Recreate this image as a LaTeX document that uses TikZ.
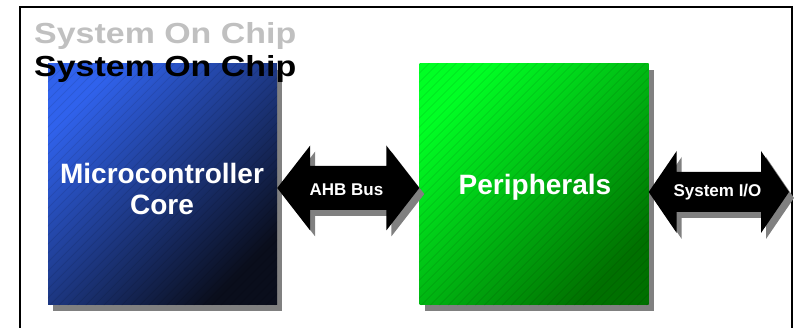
\documentclass[tikz,border=0pt]{standalone}
\usepackage{fontspec}
\setmainfont{Liberation Sans}
\usetikzlibrary{calc,shadows}

\definecolor{shadowgray}{RGB}{128,128,128}
\definecolor{titlegray}{RGB}{192,192,192}
\definecolor{blueA}{RGB}{48,98,236}
\definecolor{blueB}{RGB}{10,14,28}
\definecolor{greenA}{RGB}{0,255,36}
\definecolor{greenB}{RGB}{0,112,0}

% double-headed bus arrow between two points, with a grey drop shadow
% #1 left tip, #2 right tip, #3 head length, #4 half head width, #5 half shaft width
\newcommand\busarrow[5]{%
  \foreach \sx/\sy/\col in {5/-6/shadowgray,0/0/black}{%
    \fill[\col, transform canvas={xshift=\sx pt, yshift=\sy pt}]
      (#1) -- ($(#1)+(#3,#4)$) -- ($(#1)+(#3,#5)$)
      -- ($(#2)+(-#3,#5)$) -- ($(#2)+(-#3,#4)$) -- (#2)
      -- ($(#2)+(-#3,-#4)$) -- ($(#2)+(-#3,-#5)$)
      -- ($(#1)+(#3,-#5)$) -- ($(#1)+(#3,-#4)$) -- cycle;
  }%
}

\tikzset{
  block/.style={minimum width=229pt, minimum height=241pt, inner sep=0pt,
    general shadow={fill=shadowgray, shadow xshift=5pt, shadow yshift=-6pt}},
  blueblock/.style={block, top color=blueA, bottom color=blueB, shading angle=45},
  greenblock/.style={block, top color=greenA, bottom color=greenB, shading angle=45},
  stripe/.style={black, opacity=0.09, line width=1pt},
  blocktext/.style={text=white, inner sep=0pt, anchor=base,
    font=\bfseries\fontsize{28}{32}\selectfont},
  bustext/.style={text=white, inner sep=0pt, anchor=base,
    font=\bfseries\fontsize{17}{20}\selectfont},
  titletext/.style={inner sep=0pt, anchor=base west, xscale=1.17, transform shape,
    font=\bfseries\fontsize{29}{32}\selectfont},
}

\begin{document}
\begin{tikzpicture}[x=1pt, y=1pt]
  \useasboundingbox (0,0) rectangle (795,328);

  % outer frame, open at the bottom
  \draw[line width=2pt] (20,-5) -- (20,321) -- (792,321) -- (792,-5);

  % the two blocks
  \node[blueblock] (mcu) at (162.5,143.5) {};
  \node[greenblock] (per) at (534,143.5) {};

  % fine diagonal texture on both blocks
  \foreach \b in {mcu,per}{
    \begin{scope}
      \clip (\b.south west) rectangle (\b.north east);
      \foreach \k in {0,...,56}
        \draw[stripe] ($(\b.south west)+(-250+9*\k,0)$) -- ++(260,260);
    \end{scope}
  }

  % bus arrows
  \coordinate (ahbL) at (mcu.east |- 0,140);
  \coordinate (ahbR) at (per.west |- 0,140);
  \busarrow{ahbL}{ahbR}{33}{42.5}{22}
  \coordinate (sioL) at (per.east |- 0,136);
  \coordinate (sioR) at (789,136);
  \busarrow{sioL}{sioR}{28}{41}{20}

  % labels
  \node[blocktext] (mcuA) at (162,144.7) {Microcontroller};
  \node[blocktext] (mcuB) at (162,113) {Core};
  \node[blocktext] (perT) at (535,133) {Peripherals};
  \node[bustext] (ahbT) at (346.5,132.3) {AHB Bus};
  \node[bustext] (sioT) at (717.5,131.5) {System I/O};

  % title
  \node[titletext, text=titlegray] (titleA) at (34,284.5) {System On Chip};
  \node[titletext, text=black] (titleB) at (34,251) {System On Chip};
\end{tikzpicture}
\end{document}
